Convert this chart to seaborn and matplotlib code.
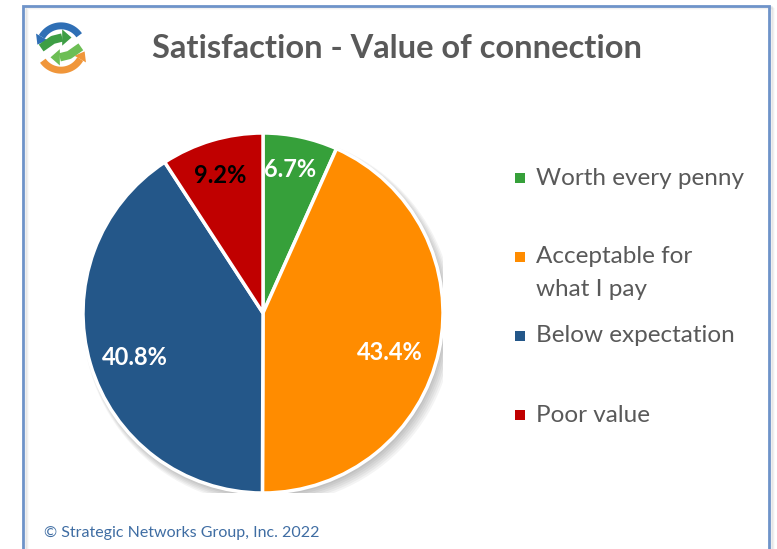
import numpy as np
import matplotlib
matplotlib.use("Agg")
import matplotlib.pyplot as plt
from matplotlib.patches import Rectangle, Circle, Polygon
import seaborn as sns

# ---- data ----
categories = ["Worth every penny", "Acceptable for\nwhat I pay", "Below expectation", "Poor value"]
shares = [6.7, 43.4, 40.8, 9.2]
colors = ["#36A03A", "#FF8C00", "#245789", "#C00000"]
label_colors = ["white", "white", "white", "black"]

title = "Satisfaction - Value of connection"
footer = "\u00a9 Strategic Networks Group, Inc. 2022"

sns.set_theme(style="white")
plt.rcParams["font.family"] = ["Lato", "DejaVu Sans"]

W, H = 777, 549
fig = plt.figure(figsize=(W / 100, H / 100), dpi=100)
fig.patch.set_facecolor("white")


def fx(px):
    return px / W


def fy(py):
    return 1 - py / H


# outer frame with a soft shadow on its right edge
for k, a in enumerate([0.10, 0.06, 0.03]):
    fig.add_artist(Rectangle((fx(24 + k + 2), fy(600)), fx(746), fy(7 + k) - fy(600),
                             fill=False, lw=1.2, ec=(0.3, 0.3, 0.3, a), transform=fig.transFigure))
fig.add_artist(Rectangle((fx(23), fy(600)), fx(746), fy(6) - fy(600),
                         fill=False, lw=2.0, ec="#6E93C9", transform=fig.transFigure))

# title and footer
fig.text(fx(397), fy(49), title, ha="center", va="center", fontsize=23.5,
         fontweight="bold", color="#595959")
fig.text(fx(44), fy(533), footer, ha="left", va="center", fontsize=11.5, color="#3F6DA3")

# ---- pie ----
cx, cy, R = 263, 313, 180
ax = fig.add_axes([fx(cx - R), fy(cy + R), fx(2 * R), fy(cy - R) - fy(cy + R)])
ax.axis("off")

# soft drop shadow under the pie
for k in range(6):
    ax.add_patch(Circle((0.010 + 0.004 * k, -0.016 - 0.004 * k), 1.0 + 0.006 * k,
                        color="black", alpha=0.045, lw=0, zorder=0))

wedges, texts, autotexts = ax.pie(
    shares, colors=colors, startangle=90, counterclock=False, radius=1.0,
    autopct="%.1f%%", pctdistance=0.75,
    wedgeprops=dict(edgecolor="white", linewidth=2.5),
    textprops=dict(fontsize=17, fontweight="bold"))
ax.set_xlim(-1, 1)
ax.set_ylim(-1, 1)
ax.set_aspect("equal")

# label placement: (radius, angular nudge in degrees) per slice
placement = [(0.81, 1.4), (0.74, -5.3), (0.754, 2.8), (0.80, 0.7)]
for w, t, c, (r, nudge) in zip(wedges, autotexts, label_colors, placement):
    ang = np.deg2rad((w.theta1 + w.theta2) / 2 + nudge)
    t.set_position((r * np.cos(ang), r * np.sin(ang)))
    t.set_color(c)
    t.set_zorder(5)

# ---- legend ----
legend_y = [178, 257, 336, 415]
fs_leg = 17.5
for lab, col, y in zip(categories, colors, legend_y):
    fig.add_artist(Rectangle((fx(515), fy(y + 5)), fx(10), fy(y - 5) - fy(y + 5),
                             fc=col, ec="none", transform=fig.transFigure))
    for i, line in enumerate(lab.split("\n")):
        fig.text(fx(536), fy(y + 33 * i), line, ha="left", va="center",
                 fontsize=fs_leg, color="#595959")

# ---- logo: circular arrows ----
lg = fig.add_axes([fx(33), fy(76), fx(56), fy(20) - fy(76)])
lg.set_xlim(-1.2, 1.2)
lg.set_ylim(-1.2, 1.2)
lg.set_aspect("equal")
lg.axis("off")


def arc_arrow(a0, a1, r, color, lw=5.0, head=0.38):
    t = np.deg2rad(np.linspace(a0, a1, 40))
    lg.plot(r * np.cos(t), r * np.sin(t), color=color, lw=lw, solid_capstyle="butt")
    te = np.deg2rad(a1)
    tip_dir = np.sign(a1 - a0)
    tang = np.array([-np.sin(te), np.cos(te)]) * tip_dir
    norm = np.array([np.cos(te), np.sin(te)])
    base = np.array([r * np.cos(te), r * np.sin(te)])
    tip = base + tang * head
    p1 = base + norm * head * 0.75
    p2 = base - norm * head * 0.75
    lg.add_patch(Polygon([tip, p1, p2], closed=True, color=color, lw=0))


arc_arrow(35, 150, 0.95, "#2F6FB5")
arc_arrow(215, 330, 0.95, "#F0963A")
# green inner arrows forming an S-shape
lg.plot([-0.85, -0.35, 0.05], [0.0, 0.35, 0.45], color="#3E9E45", lw=6, solid_capstyle="butt")
lg.add_patch(Polygon([[0.45, 0.45], [0.05, 0.8], [0.05, 0.1]], closed=True, color="#3E9E45", lw=0))
lg.plot([0.85, 0.35, -0.05], [0.05, -0.3, -0.4], color="#6DBE55", lw=6, solid_capstyle="butt")
lg.add_patch(Polygon([[-0.45, -0.4], [-0.05, -0.75], [-0.05, -0.05]], closed=True, color="#6DBE55", lw=0))

fig.savefig("out.png", dpi=100, facecolor="white")
